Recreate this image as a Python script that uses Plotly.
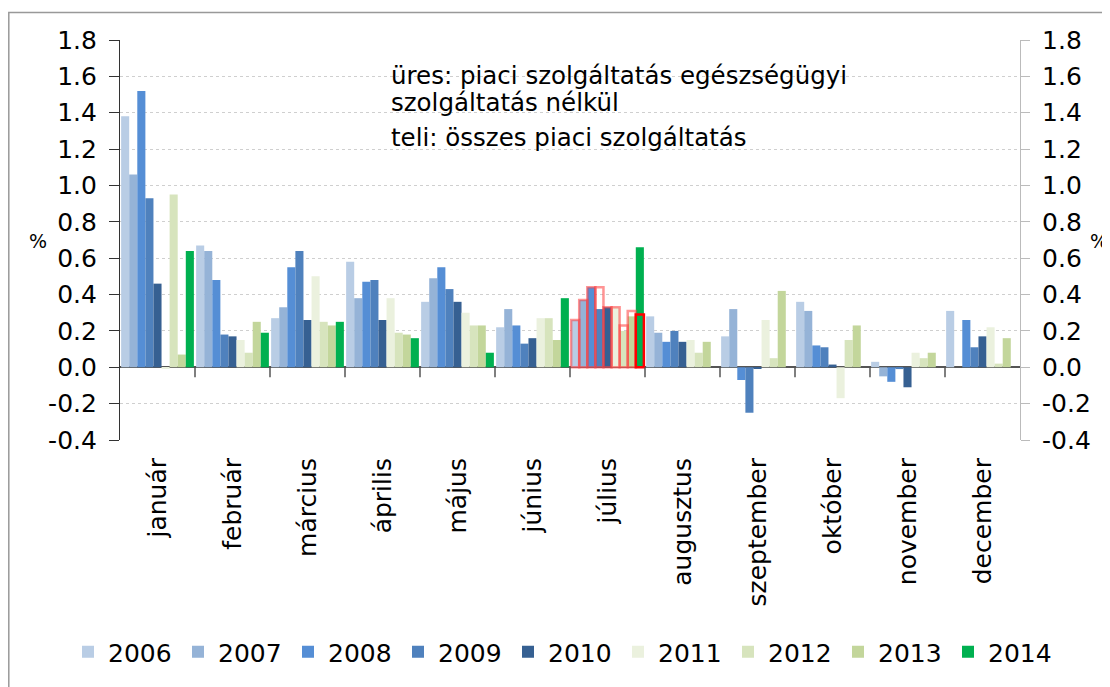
import plotly.graph_objects as go

months = ['január', 'február', 'március', 'április', 'május', 'június', 'július',
          'augusztus', 'szeptember', 'október', 'november', 'december']
years = ['2006', '2007', '2008', '2009', '2010', '2011', '2012', '2013', '2014']

v2006 = [1.38, 0.67, 0.27, 0.58, 0.36, 0.22, 0.26, 0.28, 0.17, 0.36, 0.03, 0.31]
v2007 = [1.06, 0.64, 0.33, 0.38, 0.49, 0.32, 0.37, 0.19, 0.32, 0.31, -0.05, 0.0]
v2008 = [1.52, 0.48, 0.55, 0.47, 0.55, 0.23, 0.44, 0.14, -0.07, 0.12, -0.08, 0.26]
v2009 = [0.93, 0.18, 0.64, 0.48, 0.43, 0.13, 0.32, 0.20, -0.25, 0.11, -0.01, 0.11]
v2010 = [0.46, 0.17, 0.26, 0.26, 0.36, 0.16, 0.33, 0.14, -0.005, 0.015, -0.11, 0.17]
v2011 = [-0.005, 0.15, 0.50, 0.38, 0.30, 0.27, 0.33, 0.15, 0.26, -0.17, 0.08, 0.22]
v2012 = [0.95, 0.08, 0.25, 0.19, 0.23, 0.27, 0.20, 0.08, 0.05, 0.15, 0.05, 0.02]
v2013 = [0.07, 0.25, 0.23, 0.18, 0.23, 0.15, 0.28, 0.14, 0.42, 0.23, 0.08, 0.16]
v2014 = [0.64, 0.19, 0.25, 0.16, 0.08, 0.38, 0.66, None, None, None, None, None]

# július: piaci szolgáltatás egészségügyi szolgáltatás nélkül (üres oszlopok)
july_month = ['július']
july_excl_health = [0.26, 0.37, 0.44, 0.44, 0.33, 0.33, 0.23, 0.31, 0.29]

series = [v2006, v2007, v2008, v2009, v2010, v2011, v2012, v2013, v2014]
colors = ['#B9CDE5', '#95B3D7', '#558ED5', '#4F81BD', '#366092',
          '#EBF1DE', '#D7E4BD', '#C3D69B', '#00B050']

FONT = 'DejaVu Sans'

# figure geometry (the page body adds an 8px offset, so the figure is 8px smaller)
W, H = 1102, 679
L, T, PW, PH = 112, 32, 900, 400
R, B = W - L - PW, H - T - PH


def px(xp):  # page x -> paper x
    return (xp - 8 - L) / PW


def py(yp):  # page y -> paper y
    return (T + PH - (yp - 8)) / PH


fig = go.Figure()
for yr, vals, col in zip(years, series, colors):
    fig.add_trace(go.Bar(x=months, y=vals, name=yr, offsetgroup=yr,
                         marker=dict(color=col, line=dict(width=0))))

for i, (yr, val) in enumerate(zip(years, july_excl_health)):
    last = (i == len(years) - 1)
    fig.add_trace(go.Bar(x=july_month, y=[val], offsetgroup=yr, showlegend=False,
                         hoverinfo='skip',
                         marker=dict(color='rgba(0,0,0,0)',
                                     line=dict(color='#FF0000' if last else 'rgba(255,60,60,0.55)',
                                               width=2.5))))

# empty trace so that the right-hand axis is drawn
fig.add_trace(go.Scatter(x=months, y=[None] * len(months), yaxis='y2', mode='lines',
                         showlegend=False, hoverinfo='skip'))

# tick marks at category boundaries on the zero line
shapes = []
for i in range(len(months) - 1):
    shapes.append(dict(type='line', xref='x', yref='y', x0=i + 0.5, x1=i + 0.5,
                       ysizemode='pixel', yanchor=0, y0=0, y1=-10,
                       line=dict(color='#555555', width=1.5)))
# outer frame
shapes.append(dict(type='rect', xref='paper', yref='paper',
                   x0=px(8.8), x1=px(1140), y0=py(720), y1=py(12.5),
                   line=dict(color='#999999', width=1.5), fillcolor='rgba(0,0,0,0)', layer='below'))

tickvals = [-0.4, -0.2, 0.0, 0.2, 0.4, 0.6, 0.8, 1.0, 1.2, 1.4, 1.6, 1.8]
ticktext = ['%.1f' % t for t in tickvals]

fig.update_layout(
    width=W, height=H,
    margin=dict(l=L, r=R, t=T, b=B, autoexpand=False),
    paper_bgcolor='white', plot_bgcolor='white',
    barmode='group', bargap=0.03, bargroupgap=0,
    font=dict(family=FONT, size=22, color='#000000'),
    showlegend=True,
    legend=dict(orientation='h', x=px(68), xanchor='left', y=py(652),
                yanchor='middle', font=dict(family=FONT, size=25, color='#000'),
                itemwidth=30, entrywidth=65, traceorder='normal'),
    xaxis=dict(type='category', categoryorder='array', categoryarray=months,
               range=[-0.5, 11.5], tickangle=-90, ticks='', showline=False,
               showgrid=False, ticklabelstandoff=12, automargin=False,
               tickfont=dict(family=FONT, size=25, color='#000')),
    yaxis=dict(range=[-0.4, 1.8], tickvals=tickvals, ticktext=ticktext,
               showgrid=True, gridcolor='#CFCFCF', griddash='dot', gridwidth=1,
               zeroline=True, zerolinecolor='#555555', zerolinewidth=1.5,
               showline=True, linecolor='#333333', linewidth=1.2, automargin=False,
               ticks='outside', ticklen=10, tickcolor='#333333', ticklabelstandoff=7,
               tickfont=dict(family=FONT, size=25, color='#000')),
    yaxis2=dict(range=[-0.4, 1.8], tickvals=tickvals, ticktext=ticktext,
                overlaying='y', side='right', showgrid=False, zeroline=False,
                showline=True, linecolor='#BBBBBB', linewidth=1.2, automargin=False,
                ticks='outside', ticklen=9, tickcolor='#BBBBBB', ticklabelstandoff=7,
                tickfont=dict(family=FONT, size=25, color='#000')),
    shapes=shapes,
    annotations=[
        dict(text='%', xref='paper', yref='paper', x=px(27), y=py(241),
             showarrow=False, font=dict(family=FONT, size=19)),
        dict(text='%', xref='paper', yref='paper', x=px(1110), y=py(241),
             showarrow=False, font=dict(family=FONT, size=19)),
        dict(text='üres: piaci szolgáltatás egészségügyi', xref='paper', yref='paper',
             x=px(389), y=py(75), xanchor='left', yanchor='middle',
             showarrow=False, font=dict(family=FONT, size=24.5)),
        dict(text='szolgáltatás nélkül', xref='paper', yref='paper',
             x=px(389), y=py(103), xanchor='left', yanchor='middle',
             showarrow=False, font=dict(family=FONT, size=24.5)),
        dict(text='teli: összes piaci szolgáltatás', xref='paper', yref='paper',
             x=px(389), y=py(137), xanchor='left', yanchor='middle',
             showarrow=False, font=dict(family=FONT, size=24.5)),
    ],
)

fig.write_html('out.html')
